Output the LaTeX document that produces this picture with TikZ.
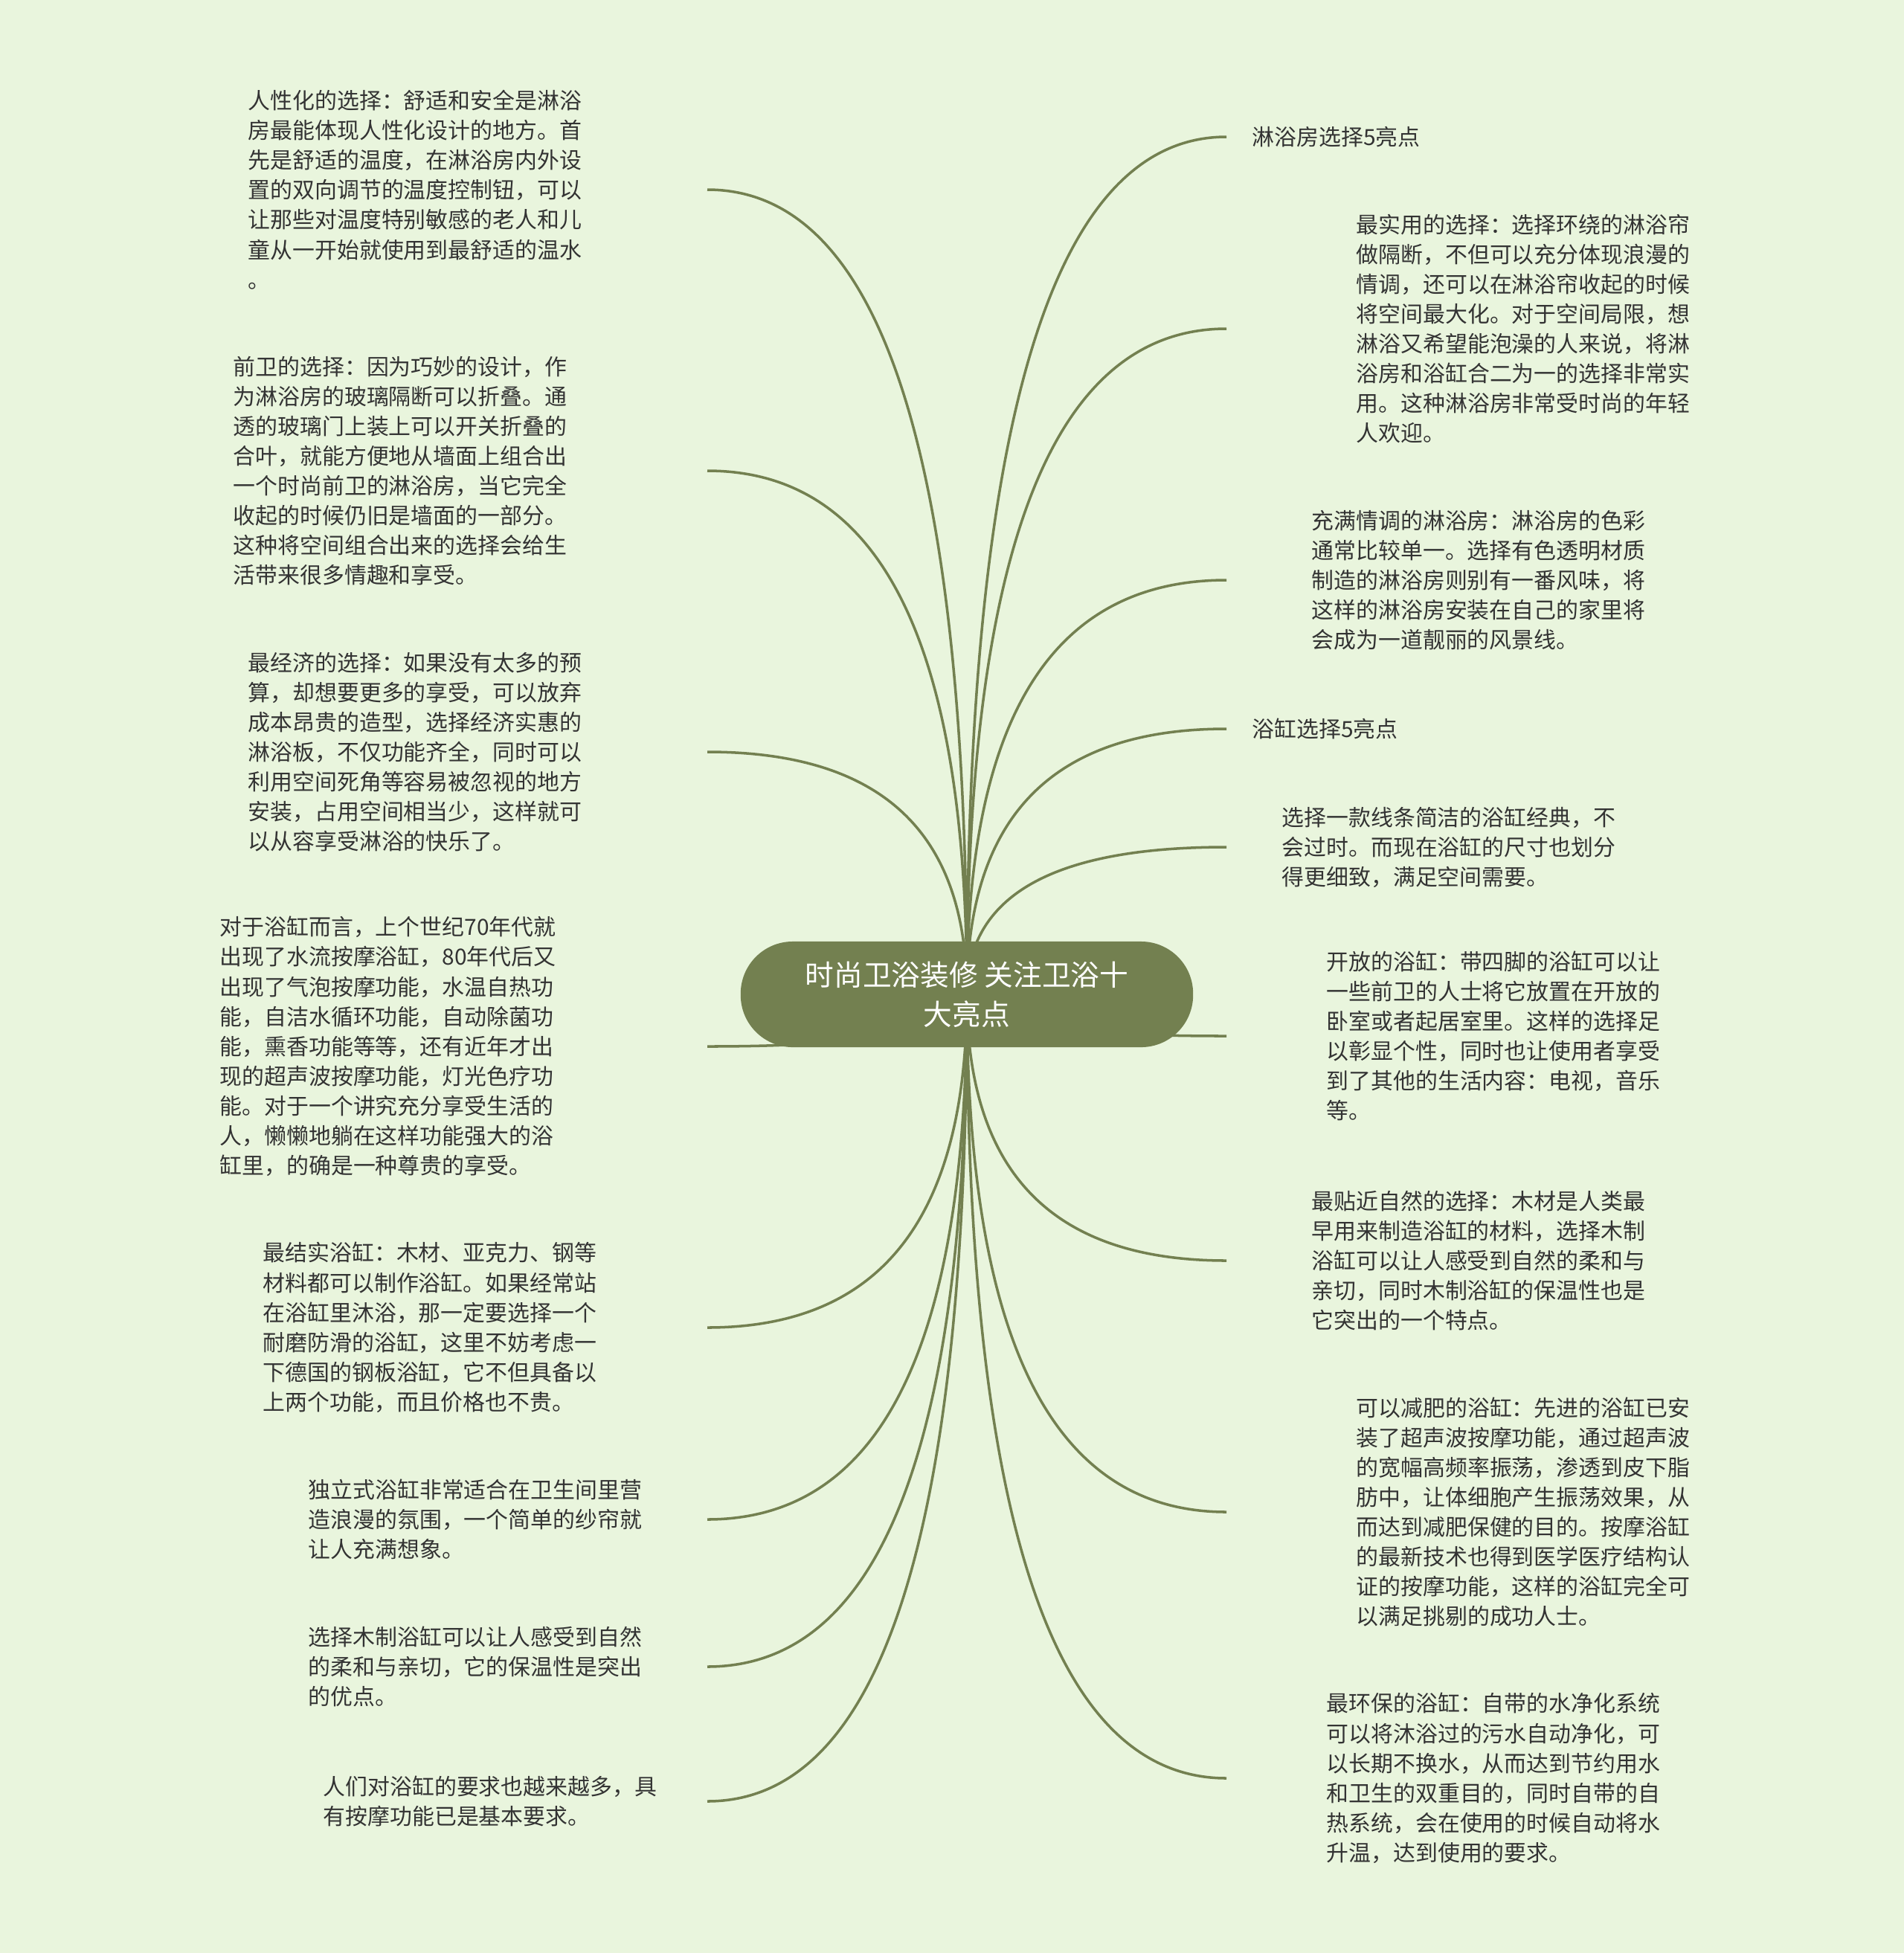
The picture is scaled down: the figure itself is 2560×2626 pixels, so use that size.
\documentclass[tikz,border=0pt]{standalone}
\usepackage{fontspec}
\setmainfont{Noto Sans CJK SC}
\usetikzlibrary{calc}
\definecolor{bgcol}{HTML}{E9F5DD}
\definecolor{olive}{HTML}{738050}
\definecolor{txtcol}{HTML}{333333}

\begin{document}
\begin{tikzpicture}[x=0.01cm, y=-0.01cm,
	leaf/.style={anchor=west, inner sep=0pt, align=left, text=txtcol, font=\fontsize{8.5}{11.4}\selectfont},
	branch/.style={draw=olive, line width=1pt},
	topic/.style={rectangle, rounded corners=0.7cm, fill=olive, text=white, align=center,
		minimum width=6.08cm, minimum height=1.42cm, font=\fontsize{11}{15.2}\selectfont}]
	% 1. 背景
	\fill[bgcol] (0,0) rectangle (2560,2626);
	\useasboundingbox (0,0) rectangle (2560,2626);

	% 2. 连接点
	\coordinate (r1) at (1649,184);
	\coordinate (r2) at (1649,442);
	\coordinate (r3) at (1649,780);
	\coordinate (r4) at (1649,980);
	\coordinate (r5) at (1649,1139);
	\coordinate (r6) at (1649,1393);
	\coordinate (r7) at (1649,1695);
	\coordinate (r8) at (1649,2033);
	\coordinate (r9) at (1649,2391);
	\coordinate (l1) at (951,255);
	\coordinate (l2) at (951,633);
	\coordinate (l3) at (951,1011);
	\coordinate (l4) at (951,1407);
	\coordinate (l5) at (951,1785);
	\coordinate (l6) at (951,2043);
	\coordinate (l7) at (951,2241);
	\coordinate (l8) at (951,2422);
	\coordinate (root) at (1300,1337);

	% 3. 分支曲线
	\foreach \e in {r1,r2,r3,r4,r5,r6,r7,r8,r9,l1,l2,l3,l4,l5,l6,l7,l8} {
		\coordinate (k) at (root |- \e);
		\draw[branch] (root) .. controls ($(root)!.67!(k)$) and ($(\e)!.67!(k)$) .. (\e);
	}

	% 4. 中心主题
	\node[topic] (main) at (root) {时尚卫浴装修 关注卫浴十\\大亮点};

	% 5. 右侧文字
	\node[leaf] (t-r1) at (1683,184) {淋浴房选择5亮点};
	\node[leaf] (t-r2) at (1823,442) {最实用的选择：选择环绕的淋浴帘\\
		做隔断，不但可以充分体现浪漫的\\
		情调，还可以在淋浴帘收起的时候\\
		将空间最大化。对于空间局限，想\\
		淋浴又希望能泡澡的人来说，将淋\\
		浴房和浴缸合二为一的选择非常实\\
		用。这种淋浴房非常受时尚的年轻\\
		人欢迎。};
	\node[leaf] (t-r3) at (1763,780) {充满情调的淋浴房：淋浴房的色彩\\
		通常比较单一。选择有色透明材质\\
		制造的淋浴房则别有一番风味，将\\
		这样的淋浴房安装在自己的家里将\\
		会成为一道靓丽的风景线。};
	\node[leaf] (t-r4) at (1683,980) {浴缸选择5亮点};
	\node[leaf] (t-r5) at (1723,1139) {选择一款线条简洁的浴缸经典，不\\
		会过时。而现在浴缸的尺寸也划分\\
		得更细致，满足空间需要。};
	\node[leaf] (t-r6) at (1783,1393) {开放的浴缸：带四脚的浴缸可以让\\
		一些前卫的人士将它放置在开放的\\
		卧室或者起居室里。这样的选择足\\
		以彰显个性，同时也让使用者享受\\
		到了其他的生活内容：电视，音乐\\
		等。};
	\node[leaf] (t-r7) at (1763,1695) {最贴近自然的选择：木材是人类最\\
		早用来制造浴缸的材料，选择木制\\
		浴缸可以让人感受到自然的柔和与\\
		亲切，同时木制浴缸的保温性也是\\
		它突出的一个特点。};
	\node[leaf] (t-r8) at (1823,2033) {可以减肥的浴缸：先进的浴缸已安\\
		装了超声波按摩功能，通过超声波\\
		的宽幅高频率振荡，渗透到皮下脂\\
		肪中，让体细胞产生振荡效果，从\\
		而达到减肥保健的目的。按摩浴缸\\
		的最新技术也得到医学医疗结构认\\
		证的按摩功能，这样的浴缸完全可\\
		以满足挑剔的成功人士。};
	\node[leaf] (t-r9) at (1783,2391) {最环保的浴缸：自带的水净化系统\\
		可以将沐浴过的污水自动净化，可\\
		以长期不换水，从而达到节约用水\\
		和卫生的双重目的，同时自带的自\\
		热系统，会在使用的时候自动将水\\
		升温，达到使用的要求。};

	% 6. 左侧文字
	\node[leaf] (t-l1) at (333,255) {人性化的选择：舒适和安全是淋浴\\
		房最能体现人性化设计的地方。首\\
		先是舒适的温度，在淋浴房内外设\\
		置的双向调节的温度控制钮，可以\\
		让那些对温度特别敏感的老人和儿\\
		童从一开始就使用到最舒适的温水\\
		。};
	\node[leaf] (t-l2) at (313,633) {前卫的选择：因为巧妙的设计，作\\
		为淋浴房的玻璃隔断可以折叠。通\\
		透的玻璃门上装上可以开关折叠的\\
		合叶，就能方便地从墙面上组合出\\
		一个时尚前卫的淋浴房，当它完全\\
		收起的时候仍旧是墙面的一部分。\\
		这种将空间组合出来的选择会给生\\
		活带来很多情趣和享受。};
	\node[leaf] (t-l3) at (333,1011) {最经济的选择：如果没有太多的预\\
		算，却想要更多的享受，可以放弃\\
		成本昂贵的造型，选择经济实惠的\\
		淋浴板，不仅功能齐全，同时可以\\
		利用空间死角等容易被忽视的地方\\
		安装，占用空间相当少，这样就可\\
		以从容享受淋浴的快乐了。};
	\node[leaf] (t-l4) at (295,1407) {对于浴缸而言，上个世纪70年代就\\
		出现了水流按摩浴缸，80年代后又\\
		出现了气泡按摩功能，水温自热功\\
		能，自洁水循环功能，自动除菌功\\
		能，熏香功能等等，还有近年才出\\
		现的超声波按摩功能，灯光色疗功\\
		能。对于一个讲究充分享受生活的\\
		人，懒懒地躺在这样功能强大的浴\\
		缸里，的确是一种尊贵的享受。};
	\node[leaf] (t-l5) at (353,1785) {最结实浴缸：木材、亚克力、钢等\\
		材料都可以制作浴缸。如果经常站\\
		在浴缸里沐浴，那一定要选择一个\\
		耐磨防滑的浴缸，这里不妨考虑一\\
		下德国的钢板浴缸，它不但具备以\\
		上两个功能，而且价格也不贵。};
	\node[leaf] (t-l6) at (414,2043) {独立式浴缸非常适合在卫生间里营\\
		造浪漫的氛围，一个简单的纱帘就\\
		让人充满想象。};
	\node[leaf] (t-l7) at (414,2241) {选择木制浴缸可以让人感受到自然\\
		的柔和与亲切，它的保温性是突出\\
		的优点。};
	\node[leaf] (t-l8) at (434,2422) {人们对浴缸的要求也越来越多，具\\
		有按摩功能已是基本要求。};
\end{tikzpicture}
\end{document}
